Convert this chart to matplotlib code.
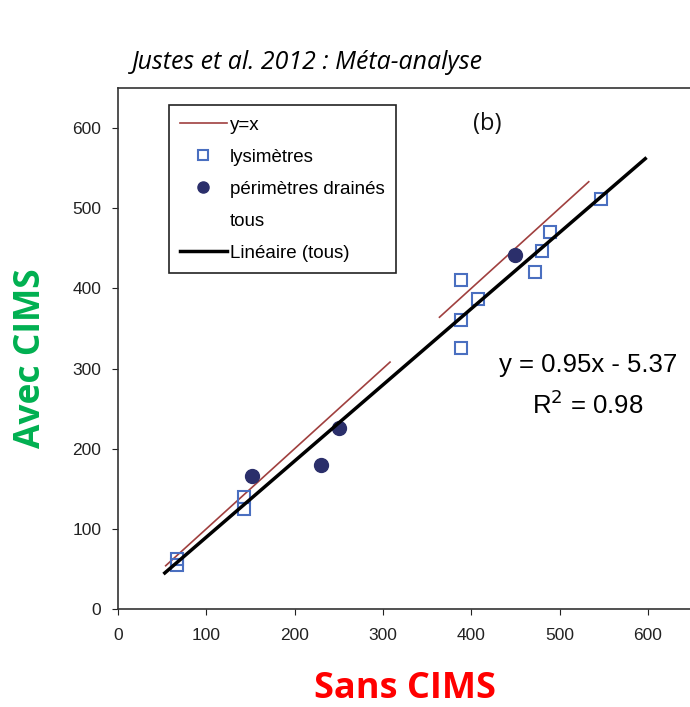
import numpy as np
import matplotlib.pyplot as plt

# lysimeter points (Sans CIMS, Avec CIMS)
lys_x = [67, 67, 143, 143, 388, 388, 388, 408, 472, 480, 489, 547]
lys_y = [63, 55, 140, 125, 410, 361, 326, 387, 420, 447, 470, 511]

# drained plots
drain_x = [152, 230, 250, 450]
drain_y = [166, 180, 226, 441]

# linear fit over all points
slope, intercept = 0.95, -5.37
fit_x = [53, 597]

# y=x reference, drawn in two pieces
ref_x = [54, 308, np.nan, 364, 533]

xticks = [0, 100, 200, 300, 400, 500, 600]
yticks = [0, 100, 200, 300, 400, 500, 600]

fig = plt.figure(figsize=(6.9, 7.07), dpi=100)
ax = fig.add_axes([0.171, 0.1386, 0.896, 0.737])

ax.plot(ref_x, ref_x, color='#a0403f', lw=1.2, label='y=x')
ax.plot(lys_x, lys_y, 's', ms=9, mfc='none', mec='#4a6fc0', mew=1.5,
        label='lysimètres')
ax.plot(drain_x, drain_y, 'o', ms=10, color='#2b2f6b', label='périmètres drainés')
ax.plot([], [], ' ', label='tous')
fx = np.array(fit_x)
ax.plot(fx, slope * fx + intercept, color='black', lw=2.5, label='Linéaire (tous)')

ax.set_xlim(0, 700)
ax.set_ylim(0, 650)
ax.set_xticks(xticks)
ax.set_yticks(yticks)
ax.tick_params(direction='out', length=4, labelsize=12.5, colors='#222222')
ax.tick_params(axis='x', pad=10)
ax.tick_params(axis='y', pad=8)
for lab in ax.get_xticklabels() + ax.get_yticklabels():
    lab.set_family('Liberation Sans')
for s in ax.spines.values():
    s.set_color('#333333')
    s.set_linewidth(1.2)

leg = ax.legend(loc='upper left', bbox_to_anchor=(0.082, 0.967), fancybox=False,
                edgecolor='#222222', framealpha=1, borderpad=0.6, labelspacing=0.8,
                handlelength=2.5, handletextpad=0.15, borderaxespad=0,
                prop={'family': 'Liberation Sans', 'size': 13.5})
leg.get_frame().set_linewidth(1.2)
leg.legend_handles[1].set_markersize(7)
leg.legend_handles[2].set_markersize(8)

ax.text(418, 605, '(b)', fontsize=17, family='Open Sans', ha='center',
        va='center', color='#111111')
ax.text(532, 304, 'y = 0.95x - 5.37', fontsize=18.5, family='Liberation Sans',
        ha='center', va='center')
ax.text(532, 255, 'R$^2$ = 0.98', fontsize=18.5, family='Liberation Sans',
        ha='center', va='center')

fig.text(0.191, 0.912, 'Justes et al. 2012 : Méta-analyse', fontsize=17.9,
         family='Open Sans', style='italic', ha='left', va='center')
fig.text(0.045, 0.494, 'Avec CIMS', fontsize=25.5, family='Open Sans',
         weight='bold', color='#00b050', rotation=90, ha='center', va='center')
fig.text(0.587, 0.025, 'Sans CIMS', fontsize=26, family='Open Sans',
         weight='bold', color='#ff0000', ha='center', va='center')

fig.savefig('out.png', dpi=100)
